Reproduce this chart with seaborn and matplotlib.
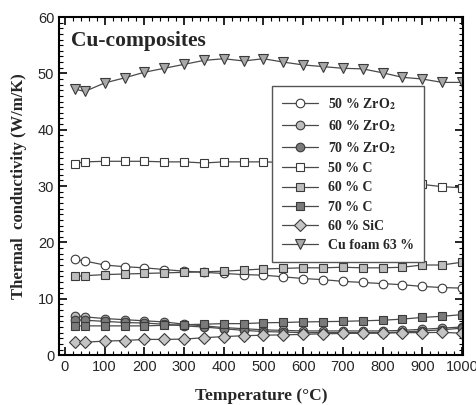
import matplotlib
matplotlib.use("Agg")
import matplotlib.pyplot as plt
import seaborn as sns
import pandas as pd
from matplotlib.ticker import MultipleLocator

temps = [25, 50, 100, 150, 200, 250, 300, 350, 400, 450, 500,
         550, 600, 650, 700, 750, 800, 850, 900, 950, 1000]

zro2_50 = [17.0, 16.7, 16.0, 15.7, 15.5, 15.2, 14.9, 14.7, 14.5, 14.3, 14.2,
           13.9, 13.6, 13.4, 13.1, 12.9, 12.7, 12.5, 12.2, 12.0, 11.9]
zro2_60 = [7.0, 6.8, 6.5, 6.3, 6.1, 5.9, 5.5, 5.2, 4.9, 4.7, 4.5,
           4.4, 4.3, 4.3, 4.3, 4.3, 4.3, 4.4, 4.6, 4.8, 5.0]
zro2_70 = [6.3, 6.2, 6.0, 5.8, 5.7, 5.5, 5.2, 5.0, 4.7, 4.4, 4.2,
           4.1, 4.0, 4.0, 4.0, 4.0, 4.0, 4.1, 4.3, 4.5, 4.8]
c_50 = [34.0, 34.3, 34.4, 34.4, 34.4, 34.3, 34.3, 34.1, 34.3, 34.3, 34.3,
        34.2, 34.0, 33.5, 33.0, 32.3, 31.5, 30.8, 30.3, 29.9, 29.7]
c_60 = [14.0, 14.1, 14.3, 14.4, 14.5, 14.6, 14.7, 14.8, 14.9, 15.1, 15.3,
        15.4, 15.5, 15.5, 15.6, 15.5, 15.5, 15.6, 16.0, 16.0, 16.5]
c_70 = [5.2, 5.2, 5.2, 5.2, 5.2, 5.3, 5.4, 5.5, 5.6, 5.6, 5.75,
        5.8, 5.9, 5.95, 6.0, 6.1, 6.2, 6.4, 6.7, 6.9, 7.2]
sic_60 = [2.3, 2.3, 2.5, 2.6, 2.8, 2.8, 2.85, 3.1, 3.3, 3.45, 3.55,
          3.6, 3.7, 3.8, 3.85, 3.9, 3.9, 4.0, 4.0, 4.05, 3.9]
cu_foam = [47.2, 46.8, 48.3, 49.2, 50.2, 50.9, 51.6, 52.3, 52.6, 52.2, 52.6,
           52.0, 51.5, 51.2, 50.9, 50.8, 50.1, 49.3, 49.0, 48.4, 48.4]

labels = [r"50 % ZrO$_\mathbf{2}$", r"60 % ZrO$_\mathbf{2}$", r"70 % ZrO$_\mathbf{2}$",
          "50 % C", "60 % C", "70 % C", "60 % SiC", "Cu foam 63 %"]
series = [zro2_50, zro2_60, zro2_70, c_50, c_60, c_70, sic_60, cu_foam]
markers = ["o", "o", "o", "s", "s", "s", "D", "v"]
faces = ["white", "#bdbdbd", "#7a7a7a", "white", "#bdbdbd", "#7a7a7a", "#c4c4c4", "#a8a8a8"]
msizes = [6.2, 6.2, 6.2, 6.2, 6.2, 6.2, 6.0, 7.2]

rows = []
for lab, vals in zip(labels, series):
    for t, v in zip(temps, vals):
        rows.append({"T": t, "k": v, "series": lab})
df = pd.DataFrame(rows)

sns.set_style("ticks")
plt.rcParams["mathtext.fontset"] = "stix"

fig = plt.figure(figsize=(4.76, 4.05), dpi=100)
ax = fig.add_axes([0.124, 0.123, 0.849, 0.835])

for lab, m, fc, ms in zip(labels, markers, faces, msizes):
    sub = df[df["series"] == lab]
    sns.lineplot(data=sub, x="T", y="k", ax=ax, color="#4a4a4a", lw=0.9,
                 marker=m, markersize=ms, markerfacecolor=fc,
                 markeredgecolor="#3a3a3a", markeredgewidth=0.8,
                 label=lab, legend=False, sort=False)

ax.set_xlim(-15, 1003)
ax.set_ylim(0, 60)
ax.xaxis.set_major_locator(MultipleLocator(100))
ax.xaxis.set_minor_locator(MultipleLocator(20))
ax.yaxis.set_major_locator(MultipleLocator(10))
ax.yaxis.set_minor_locator(MultipleLocator(1))
ax.tick_params(which="both", direction="in", top=True, right=True, color="black")
ax.tick_params(which="major", length=6, width=1.2)
ax.tick_params(which="minor", length=3, width=0.8)
for lbl in ax.get_xticklabels() + ax.get_yticklabels():
    lbl.set_fontfamily("Liberation Sans")
    lbl.set_fontsize(10.5)
for sp in ax.spines.values():
    sp.set_linewidth(1.5)
    sp.set_color("black")

ax.set_xlabel("Temperature (°C)", fontfamily="Liberation Serif", fontweight="bold",
              fontsize=12.5, labelpad=10)
ax.set_ylabel("Thermal  conductivity (W/m/K)", fontfamily="Liberation Serif",
              fontweight="bold", fontsize=12, labelpad=8)

ax.text(0.03, 0.93, "Cu-composites", transform=ax.transAxes, fontfamily="Liberation Serif",
        fontweight="bold", fontsize=15.5, ha="left", va="center")

handles, hl = ax.get_legend_handles_labels()
leg = ax.legend(handles, hl, loc="upper left", bbox_to_anchor=(0.528, 0.795),
                borderaxespad=0,
                frameon=True, fancybox=False, edgecolor="#555555", framealpha=1,
                prop={"family": "Liberation Serif", "weight": "bold", "size": 10},
                handlelength=2.6, labelspacing=0.45, borderpad=0.7, handletextpad=0.7)
leg.get_frame().set_linewidth(1.0)

fig.savefig("out.png", dpi=100)
